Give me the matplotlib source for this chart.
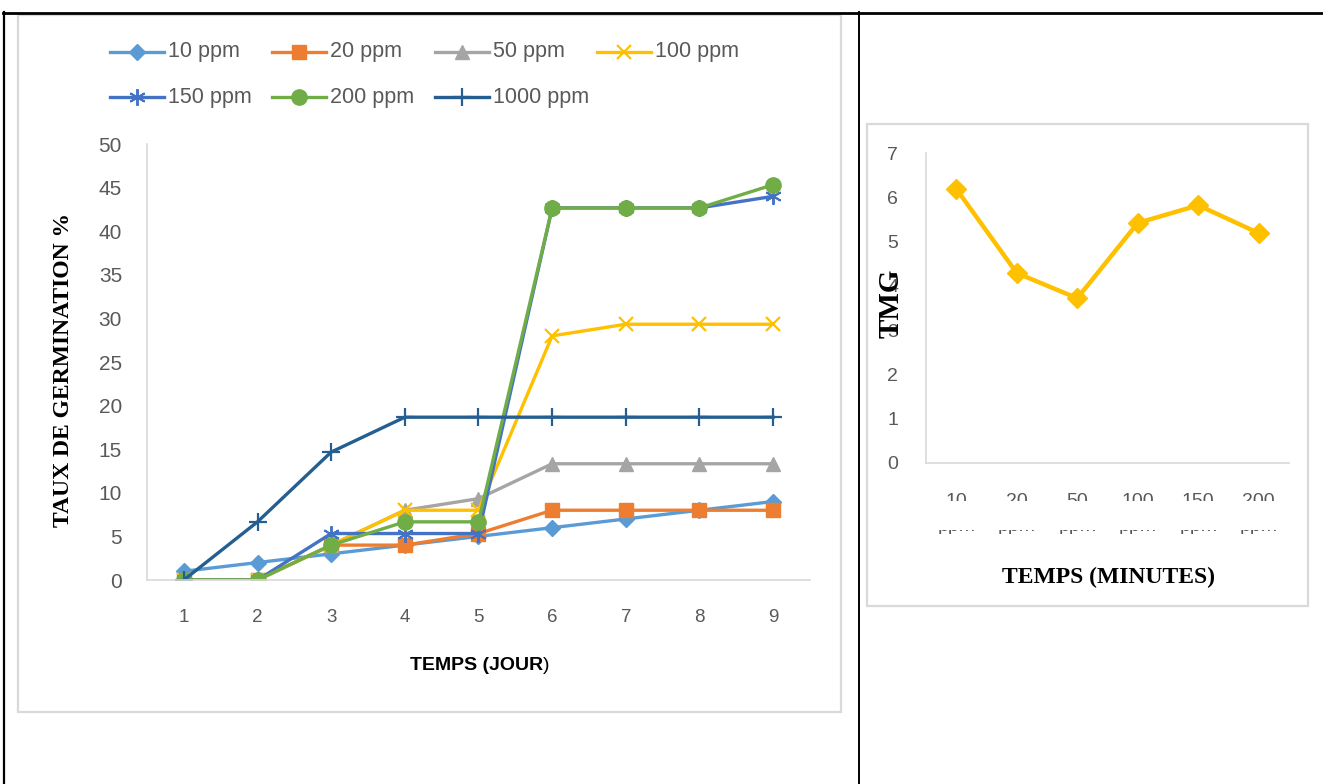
import matplotlib
matplotlib.use("Agg")
from matplotlib import pyplot as plt
from matplotlib.lines import Line2D
from matplotlib.patches import Rectangle
from matplotlib.transforms import Bbox, TransformedBbox, blended_transform_factory

# germination rate per day for each concentration
jours = [1, 2, 3, 4, 5, 6, 7, 8, 9]
series_names = ["10 ppm", "20 ppm", "50 ppm", "100 ppm", "150 ppm", "200 ppm", "1000 ppm"]
taux_10 = [1, 2, 3, 4, 5, 6, 7, 8, 9]
taux_20 = [0, 0, 4, 4, 5.33, 8, 8, 8, 8]
taux_50 = [0, 0, 4, 8, 9.33, 13.33, 13.33, 13.33, 13.33]
taux_100 = [0, 0, 4, 8, 8, 28, 29.33, 29.33, 29.33]
taux_150 = [0, 0, 5.33, 5.33, 5.33, 42.67, 42.67, 42.67, 44]
taux_200 = [0, 0, 4, 6.67, 6.67, 42.67, 42.67, 42.67, 45.33]
taux_1000 = [0, 6.67, 14.67, 18.67, 18.67, 18.67, 18.67, 18.67, 18.67]

# mean germination time per soaking time
temps_labels = ["10", "20", "50", "100", "150", "200"]
tmg = [6.19, 4.29, 3.72, 5.42, 5.82, 5.19]

W, H = 1323, 784
fig = plt.figure(figsize=(W / 100, H / 100), dpi=100)
fig.patch.set_facecolor("white")

def fx(px):
    return px / W

def fy(py):
    return 1 - py / H

grey = "#595959"
axis_col = "#D9D9D9"
sans = ["Liberation Sans", "DejaVu Sans"]
serif = ["Liberation Serif", "DejaVu Serif"]

# table borders
for xs, ys, lw in [((3, 1323), (13, 13), 2.0), ((4, 4), (12, 784), 1.6), ((859, 859), (12, 784), 1.4)]:
    fig.add_artist(Line2D([fx(xs[0]), fx(xs[1])], [fy(ys[0]), fy(ys[1])], color="black", lw=lw))

# chart frames
for (x0, y0, x1, y1) in [(18, 15, 841, 712), (867, 124, 1308, 606)]:
    fig.add_artist(Rectangle((fx(x0), fy(y1)), fx(x1) - fx(x0), fy(y0) - fy(y1),
                             fill=False, edgecolor=axis_col, lw=1.6))

styles = [
    dict(color="#5B9BD5", marker="D", ms=8),
    dict(color="#ED7D31", marker="s", ms=10),
    dict(color="#A5A5A5", marker="^", ms=10),
    dict(color="#FFC000", marker="x", ms=10, mew=1.6),
    dict(color="#4472C4", marker=(6, 2, 0), ms=12, mew=1.4),
    dict(color="#70AD47", marker="o", ms=11),
    dict(color="#255E91", marker="+", ms=13, mew=1.6),
]
all_series = [taux_10, taux_20, taux_50, taux_100, taux_150, taux_200, taux_1000]

# left chart
ax = fig.add_axes([fx(147), fy(580), fx(810) - fx(147), fy(144) - fy(580)])
for vals, st in zip(all_series, styles):
    ax.plot(jours, vals, lw=2.4, **st)
ax.set_xlim(0.5, 9.5)
ax.set_ylim(0, 50)
ax.set_xticks(jours)
ax.set_yticks(range(0, 51, 5))
for s in ["top", "right"]:
    ax.spines[s].set_visible(False)
for s in ["left", "bottom"]:
    ax.spines[s].set_color(axis_col)
    ax.spines[s].set_linewidth(1.2)
ax.tick_params(axis="y", length=0, pad=18, labelsize=15, labelcolor=grey)
ax.tick_params(axis="x", length=0, pad=21, labelsize=13.5, labelcolor=grey)
for lab in ax.get_xticklabels() + ax.get_yticklabels():
    lab.set_family(sans)
fig.text(fx(64), fy(370), "TAUX DE GERMINATION %", family=serif, fontweight="bold", fontsize=17,
         rotation=90, ha="center", va="center")
fig.text(fx(543), fy(665), "TEMPS (JOUR", family=sans, fontweight="bold", fontsize=14,
         color="black", ha="right", va="center")
fig.text(fx(543), fy(665), ")", family=sans, fontsize=14, color="black", ha="left", va="center")

# legend drawn by hand in two rows
col_x = [110, 272, 435, 597]
row_y = [52, 97]
for i, (name, st) in enumerate(zip(series_names, styles)):
    x0 = col_x[i % 4]
    y0 = row_y[i // 4]
    fig.add_artist(Line2D([fx(x0), fx(x0 + 54)], [fy(y0), fy(y0)], color=st["color"], lw=2.4))
    fig.add_artist(Line2D([fx(x0 + 27)], [fy(y0)], color=st["color"], marker=st["marker"],
                          ms=st["ms"], mew=st.get("mew", 1.0), lw=0))
    fig.text(fx(x0 + 58), fy(y0), name, family=sans, fontsize=15.5, color=grey, ha="left", va="center")

# right chart
ax2 = fig.add_axes([fx(926), fy(463), fx(1289) - fx(926), fy(153) - fy(463)])
pos = list(range(len(tmg)))
ax2.plot(pos, tmg, color="#FFC000", lw=3.2, marker="D", ms=10)
ax2.set_xlim(-0.5, len(tmg) - 0.5)
ax2.set_ylim(0, 7)
ax2.set_yticks(range(0, 8))
ax2.set_xticks([])
for s in ["top", "right"]:
    ax2.spines[s].set_visible(False)
for s in ["left", "bottom"]:
    ax2.spines[s].set_color(axis_col)
    ax2.spines[s].set_linewidth(1.2)
ax2.tick_params(axis="y", length=0, pad=20, labelsize=14, labelcolor=grey)
for lab in ax2.get_yticklabels():
    lab.set_family(sans)

# category labels squeezed into a strip too small for them
tr = blended_transform_factory(ax2.transData, fig.transFigure)
clip_top = TransformedBbox(Bbox.from_extents(fx(900), fy(501), fx(1300), fy(492)), fig.transFigure)
clip_bot = TransformedBbox(Bbox.from_extents(fx(900), fy(534), fx(1300), fy(530)), fig.transFigure)
for p, lab in zip(pos, temps_labels):
    t1 = ax2.text(p, fy(493), lab, transform=tr, family=sans, fontsize=14, color=grey,
                  ha="center", va="top", clip_on=True)
    t1.set_clip_box(clip_top)
    t2 = ax2.text(p, fy(531), "ppm", transform=tr, family=sans, fontsize=14, color=grey,
                  ha="center", va="baseline", clip_on=True)
    t2.set_clip_box(clip_bot)

fig.text(fx(891), fy(303), "TMG", family=serif, fontweight="bold", fontsize=21,
         rotation=90, ha="center", va="center")
fig.text(fx(1108), fy(577), "TEMPS (MINUTES)", family=serif, fontweight="bold", fontsize=17,
         ha="center", va="center")

fig.savefig("out.png", dpi=100)
